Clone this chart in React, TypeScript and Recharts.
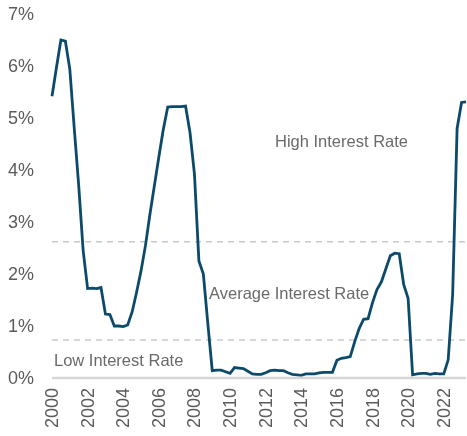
import { LineChart, Line, XAxis, YAxis, ReferenceLine } from "recharts";

// quarterly rate, 2000 Q1 .. 2023 Q2 (percent)
const rates = [
  5.42, 5.97, 6.5, 6.48, 5.94, 4.8, 3.7, 2.45,
  1.72, 1.73, 1.72, 1.74, 1.23, 1.22, 1.0, 1.0,
  0.99, 1.02, 1.27, 1.65, 2.06, 2.55, 3.15, 3.7,
  4.25, 4.78, 5.21, 5.22, 5.22, 5.22, 5.23, 4.72,
  3.92, 2.25, 2.0, 1.05, 0.14, 0.15, 0.15, 0.12,
  0.09, 0.2, 0.19, 0.18, 0.13, 0.08, 0.07, 0.07,
  0.1, 0.14, 0.15, 0.14, 0.14, 0.1, 0.07, 0.06,
  0.05, 0.08, 0.08, 0.08, 0.1, 0.11, 0.11, 0.11,
  0.34, 0.38, 0.39, 0.41, 0.7, 0.95, 1.13, 1.14,
  1.45, 1.7, 1.85, 2.1, 2.35, 2.4, 2.39, 1.8,
  1.53, 0.06, 0.08, 0.09, 0.09, 0.07, 0.09, 0.08,
  0.08, 0.35, 1.6, 4.8, 5.3, 5.31,
];
const startYear = 2000;
const tickYears = [2000, 2002, 2004, 2006, 2008, 2010, 2012, 2014, 2016, 2018, 2020, 2022];
const yTicks = [0, 1, 2, 3, 4, 5, 6, 7];
const thresholds = [0.73, 2.62];

const data = rates.map((r, i) => ({ t: startYear + i / 4, rate: r }));

const FONT = "'Liberation Sans', Arial, sans-serif";
const TICK = "#5b5b5b";
const NOTE = "#6a6a6a";

const XTick = ({ x, y, payload }: any) => (
  <text
    x={x}
    y={y}
    transform={`rotate(-90, ${x}, ${y})`}
    textAnchor="end"
    dominantBaseline="central"
    fill={TICK}
    fontSize={18}
    fontFamily={FONT}
  >
    {payload.value}
  </text>
);

const note = (left: number, top: number): React.CSSProperties => ({
  position: "absolute",
  left,
  top,
  lineHeight: "19px",
  fontSize: 16.5,
  color: NOTE,
  fontFamily: FONT,
  whiteSpace: "nowrap",
});

export default function App() {
  // fixed so the page never gets a scrollbar
  return (
    <div style={{ position: "fixed", left: 0, top: 0, width: 467, height: 436 }}>
      <LineChart width={467} height={436} data={data} margin={{ top: 14, right: 1, left: 8, bottom: 0 }}>
        <XAxis
          dataKey="t"
          type="number"
          domain={[2000, 2023.25]}
          ticks={tickYears}
          interval={0}
          axisLine={{ stroke: "#d6d6d6", strokeWidth: 2.5 }}
          tickLine={false}
          tickSize={0}
          tickMargin={10}
          height={58}
          tick={<XTick />}
        />
        <YAxis
          domain={[0, 7]}
          ticks={yTicks}
          width={44}
          axisLine={false}
          tickLine={false}
          tickSize={0}
          tickMargin={18}
          tickFormatter={(v) => `${v}%`}
          tick={{ fill: TICK, fontSize: 18, fontFamily: FONT }}
        />
        {thresholds.map((v) => (
          <ReferenceLine key={v} y={v} stroke="#c9c9c9" strokeWidth={1.5} strokeDasharray="6 5" />
        ))}
        <Line
          type="linear"
          dataKey="rate"
          stroke="#0c4a6c"
          strokeWidth={2.8}
          dot={false}
          isAnimationActive={false}
        />
      </LineChart>
      <div style={note(275, 132)}>High Interest Rate</div>
      <div style={note(209, 284)}>Average Interest Rate</div>
      <div style={note(54, 351)}>Low Interest Rate</div>
    </div>
  );
}
